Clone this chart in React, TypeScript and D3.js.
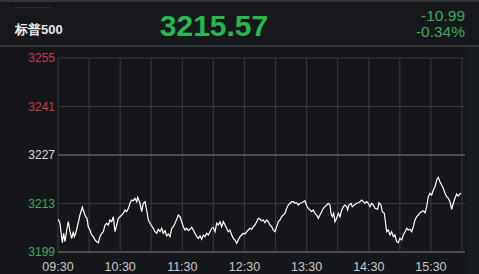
import React from "react";
import * as d3 from "d3";

const title = "标普500";
const lastPrice = "3215.57";
const change = "-10.99";
const changePct = "-0.34%";
const prevClose = 3226.56;
const halfRange = 28;
const yTickSteps = [2, 1, 0, -1, -2];
const xTickLabels = ["09:30", "10:30", "11:30", "12:30", "13:30", "14:30", "15:30"];
const sessionMinutes = 390;

const minutes = [
  0.3, 1.9, 4.2, 5.5, 6.8, 8.4, 9.9, 11.6, 13.2, 14.8, 15.7, 17.1, 19.0, 21.2, 23.5, 25.4, 26.7, 28.0, 29.2, 30.9,
  32.5, 34.1, 35.7, 37.4, 38.9, 40.5, 42.2, 43.7, 45.4, 47.0, 48.6, 50.2, 51.8, 53.4, 55.0, 56.7, 58.2, 59.8, 61.5, 63.0,
  64.7, 66.3, 67.9, 69.5, 71.1, 72.7, 74.3, 76.0, 76.9, 79.2, 80.8, 82.3, 84.0, 85.6, 87.2, 89.8, 92.0, 93.6, 95.3, 96.8,
  98.5, 100.1, 101.6, 103.3, 104.9, 106.5, 108.1, 109.8, 111.3, 112.9, 114.6, 116.1, 117.8, 119.4, 121.0, 122.6, 124.2, 125.8, 127.4, 129.1,
  130.6, 132.2, 133.9, 135.4, 137.1, 138.7, 140.3, 141.9, 143.5, 145.1, 146.7, 148.4, 149.9, 151.6, 153.2, 154.7, 156.4, 158.0, 159.6, 161.2,
  162.8, 164.4, 166.0, 167.7, 169.2, 170.9, 172.5, 174.0, 175.7, 177.3, 178.9, 180.5, 182.2, 183.7, 185.3, 187.0, 188.5, 190.2, 191.8, 193.4,
  195.0, 196.6, 198.2, 199.8, 201.5, 203.0, 204.6, 206.3, 207.8, 209.5, 211.1, 212.7, 214.3, 215.9, 217.5, 219.1, 220.8, 222.3, 224.0, 225.6,
  227.2, 228.8, 230.4, 232.0, 233.6, 235.2, 236.8, 238.4, 240.1, 241.6, 243.3, 244.9, 246.4, 248.1, 249.7, 251.3, 252.9, 254.5, 256.1, 257.7,
  259.4, 260.9, 262.6, 263.5, 264.8, 266.1, 267.4, 269.0, 270.6, 272.2, 273.9, 275.4, 277.0, 278.7, 279.6, 280.9, 282.8, 284.1, 286.0, 288.3,
  289.9, 291.5, 293.2, 294.7, 296.3, 298.0, 299.5, 301.2, 302.8, 304.4, 306.0, 308.6, 309.9, 311.8, 313.1, 315.0, 316.3, 317.3, 318.8, 320.5,
  322.1, 323.7, 325.3, 326.9, 328.5, 330.1, 331.8, 333.3, 335.0, 336.6, 338.1, 339.8, 341.4, 343.0, 344.6, 346.3, 347.8, 349.4, 351.1, 352.6,
  354.3, 355.9, 357.5, 359.1, 360.7, 362.3, 363.9, 365.6, 367.1, 368.7, 370.4, 371.9, 373.6, 375.2, 376.8, 378.4, 380.0, 381.6, 383.2, 384.9,
  386.4, 388.0, 389.0,
];

const prices = [
  3208.00, 3206.84, 3201.24, 3203.96, 3201.53, 3204.91, 3207.31, 3204.42, 3202.51, 3204.42, 3202.98, 3203.96, 3206.35, 3209.24, 3211.46, 3209.73, 3208.75, 3208.29, 3205.86, 3204.91,
  3203.47, 3202.98, 3202.02, 3201.53, 3201.24, 3202.98, 3203.96, 3204.42, 3206.35, 3206.84, 3206.35, 3207.80, 3207.31, 3208.75, 3204.42, 3206.35, 3208.29, 3208.75, 3209.24, 3209.73,
  3210.68, 3210.19, 3211.17, 3212.62, 3213.57, 3213.37, 3214.06, 3213.08, 3214.35, 3212.62, 3210.19, 3212.62, 3213.08, 3210.68, 3207.80, 3206.35, 3205.40, 3204.42, 3203.96, 3205.11,
  3204.42, 3205.40, 3203.96, 3204.71, 3203.18, 3203.76, 3202.98, 3205.40, 3205.86, 3206.84, 3208.00, 3209.24, 3208.75, 3207.31, 3205.86, 3204.91, 3205.40, 3204.71, 3205.11, 3205.69,
  3204.91, 3203.96, 3202.98, 3202.51, 3203.18, 3202.23, 3203.47, 3202.98, 3203.96, 3203.47, 3204.42, 3205.40, 3205.69, 3204.42, 3206.84, 3206.35, 3207.31, 3205.86, 3207.31, 3206.35,
  3205.40, 3204.42, 3204.91, 3203.47, 3202.51, 3202.02, 3201.07, 3202.02, 3202.98, 3203.47, 3203.96, 3203.76, 3204.42, 3204.91, 3205.40, 3205.11, 3205.86, 3206.35, 3207.31, 3208.29,
  3208.00, 3207.59, 3207.80, 3207.02, 3207.80, 3207.31, 3206.35, 3205.86, 3204.91, 3204.42, 3205.86, 3207.31, 3207.80, 3208.75, 3209.24, 3209.73, 3211.17, 3212.13, 3212.62, 3213.08,
  3213.08, 3212.62, 3212.79, 3212.13, 3212.62, 3212.79, 3213.08, 3213.37, 3211.84, 3211.17, 3210.68, 3210.19, 3210.68, 3209.73, 3209.24, 3208.29, 3209.24, 3210.19, 3211.17, 3211.64,
  3212.13, 3212.62, 3212.13, 3209.73, 3208.75, 3209.73, 3207.31, 3208.29, 3209.73, 3208.75, 3210.68, 3211.64, 3212.13, 3211.64, 3210.68, 3212.13, 3212.62, 3211.64, 3212.13, 3212.62,
  3212.79, 3213.08, 3213.57, 3213.08, 3212.62, 3213.08, 3212.62, 3211.64, 3212.62, 3212.13, 3211.17, 3210.89, 3212.79, 3212.13, 3210.19, 3209.73, 3206.84, 3204.42, 3204.91, 3203.47,
  3204.42, 3202.98, 3203.47, 3201.53, 3201.24, 3202.51, 3202.02, 3203.47, 3204.42, 3205.40, 3204.91, 3205.11, 3204.42, 3205.86, 3207.80, 3208.75, 3209.24, 3209.90, 3210.19, 3210.48,
  3209.90, 3211.64, 3214.52, 3215.50, 3215.01, 3216.46, 3217.41, 3219.34, 3220.12, 3218.85, 3217.90, 3216.95, 3215.50, 3214.52, 3214.06, 3213.08, 3210.89, 3212.62, 3214.06, 3215.30,
  3214.72, 3215.30, 3215.57,
];

const W = 479;
const H = 274;
const plot = { left: 58, right: 462, top: 58, bottom: 252 };

export default function App() {
  const x = d3.scaleLinear().domain([0, sessionMinutes]).range([plot.left, plot.right]);
  const y = d3
    .scaleLinear()
    .domain([prevClose - halfRange, prevClose + halfRange])
    .range([plot.bottom, plot.top]);

  const points = minutes.map((m, i) => [m, prices[i]] as [number, number]);
  const line = d3
    .line<[number, number]>()
    .x((d) => x(d[0]))
    .y((d) => y(d[1]));

  const gridMinutes = d3.range(0, sessionMinutes + 1, 30);
  const yTicks = yTickSteps.map((k) => prevClose + (k * halfRange) / 2);

  const labelColor = (k: number) => (k > 0 ? "#c93a4a" : k < 0 ? "#3ea75c" : "#dcdcdc");
  const font = "'Liberation Sans', Arial, sans-serif";

  return (
    <svg
      width={W}
      height={H}
      style={{ position: "absolute", left: 0, top: 0, display: "block" }}
      fontFamily={font}
    >
      <rect x={0} y={0} width={W} height={H} fill="#16171b" />
      <rect x={467} y={46} width={W - 467} height={H - 46} fill="#1a1c23" />
      {/* header */}
      <rect x={0} y={0} width={W} height={46} fill="#17181c" />
      <line x1={0} x2={W} y1={1} y2={1} stroke="#3d3e44" strokeWidth={1.5} />
      <line x1={0} x2={W} y1={46} y2={46} stroke="#3d3e44" strokeWidth={1.5} />
      <text x={15} y={10} fill="#3a3b40" fontSize={9}>
        ————
      </text>
      <text x={15} y={34} fill="#e8e8e8" fontSize={13} fontWeight="bold">
        {title}
      </text>
      <text x={214} y={36} textAnchor="middle" fill="#27b84e" fontSize={30} fontWeight="bold">
        {lastPrice}
      </text>
      <text x={465} y={21} textAnchor="end" fill="#3aa95c" fontSize={15.5}>
        {change}
      </text>
      <text x={465} y={36.5} textAnchor="end" fill="#3aa95c" fontSize={15.5}>
        {changePct}
      </text>

      {/* grid */}
      {gridMinutes.map((m) => (
        <line
          key={"v" + m}
          x1={x(m)}
          x2={x(m)}
          y1={plot.top}
          y2={plot.bottom}
          stroke="#393a40"
          strokeWidth={1}
        />
      ))}
      {yTicks.map((v, i) => {
        const k = yTickSteps[i];
        const strong = k === 0 || k === -2;
        return (
          <line
            key={"h" + i}
            x1={plot.left}
            x2={plot.right + 3}
            y1={y(v)}
            y2={y(v)}
            stroke={strong ? "#4a4b51" : "#393a40"}
            strokeWidth={strong ? 2 : 1}
          />
        );
      })}
      {yTicks.map((v, i) => (
        <text
          key={"yl" + i}
          x={55}
          y={y(v)}
          dy="0.35em"
          textAnchor="end"
          fontSize={12}
          fill={labelColor(yTickSteps[i])}
        >
          {Math.round(v)}
        </text>
      ))}
      {xTickLabels.map((t, i) => (
        <text
          key={"xl" + t}
          x={x(i * 60)}
          y={271}
          textAnchor="middle"
          fontSize={12.5}
          fill="#c9c9c9"
        >
          {t}
        </text>
      ))}

      <path d={line(points) || ""} fill="none" stroke="#ffffff" strokeWidth={1.2} strokeLinejoin="miter" />
    </svg>
  );
}
